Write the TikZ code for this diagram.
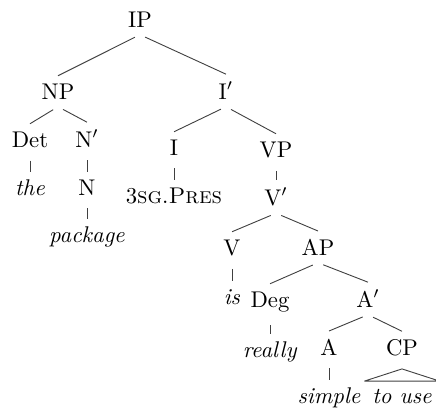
\documentclass[tikz,border=0pt]{standalone}
\usepackage{tikz}
\usetikzlibrary{calc,positioning}

\tikzset{
  lbl/.style={anchor=base,inner sep=3.2pt},
  branch/.style={black!75,line width=0.4pt,shorten <=2.5pt},
}

\begin{document}
\begin{tikzpicture}[x=0.44pt,y=-0.44pt,font=\normalsize]
  \useasboundingbox (0,0) rectangle (436,409);
  % --- Labels (placed on their baselines) ---
  \node[lbl] (ip)      at (140,27)  {IP};
  \node[lbl] (np)      at (58,99)   {NP};
  \node[lbl] (ibar)    at (226,99)  {I$'$};
  % subject
  \node[lbl] (det)     at (30,147)  {Det};
  \node[lbl] (nbar)    at (87,147)  {N$'$};
  \node[lbl] (the)     at (30,195)  {\textit{the}};
  \node[lbl] (n)       at (87,195)  {N};
  \node[lbl] (package) at (87,242)  {\textit{package}};
  % inflection
  \node[lbl] (i)       at (174,155) {I};
  \node[lbl] (infl)    at (174,203) {3\textsc{sg}.\textsc{Pres}};
  \node[lbl] (vp)      at (276,157) {VP};
  \node[lbl] (vbar)    at (276,205) {V$'$};
  \node[lbl] (v)       at (232,255) {V};
  \node[lbl] (ap)      at (318,255) {AP};
  \node[lbl] (is)      at (232,304) {\textit{is}};
  \node[lbl] (deg)     at (270,307) {Deg};
  \node[lbl] (abar)    at (368,307) {A$'$};
  \node[lbl] (really)  at (270,357) {\textit{really}};
  \node[lbl] (a)       at (329,355) {A};
  \node[lbl] (cp)      at (402,355) {CP};
  \node[lbl] (simple)  at (329,403) {\textit{simple}};
  \node[lbl] (touse)   at (402,403) {\textit{to use}};
  % --- Branches ---
  \draw[branch] (ip.south) -- (np.north);
  \draw[branch] (ip.south) -- (ibar.north);
  \draw[branch] (np.south) -- (det.north);
  \draw[branch] (np.south) -- (nbar.north);
  \draw[branch] (det.south) -- (the.north);
  \draw[branch] (nbar.south) -- (n.north);
  \draw[branch] (n.south) -- (package.north);
  \draw[branch] (ibar.south) -- (i.north);
  \draw[branch] (ibar.south) -- (vp.north);
  \draw[branch] (i.south) -- (infl.north);
  \draw[branch] (vp.south) -- (vbar.north);
  \draw[branch] (vbar.south) -- (v.north);
  \draw[branch] (vbar.south) -- (ap.north);
  \draw[branch] (v.south) -- (is.north);
  \draw[branch] (ap.south) -- (deg.north);
  \draw[branch] (ap.south) -- (abar.north);
  \draw[branch] (deg.south) -- (really.north);
  \draw[branch] (abar.south) -- (a.north);
  \draw[branch] (abar.south) -- (cp.north);
  \draw[branch] (a.south) -- (simple.north);
  % roof over the CP
  \draw[black!75,line width=0.4pt,line join=round]
    ($(cp.south)+(0,-2.5pt)$) -- (touse.north west) -- (touse.north east) -- cycle;
\end{tikzpicture}
\end{document}
